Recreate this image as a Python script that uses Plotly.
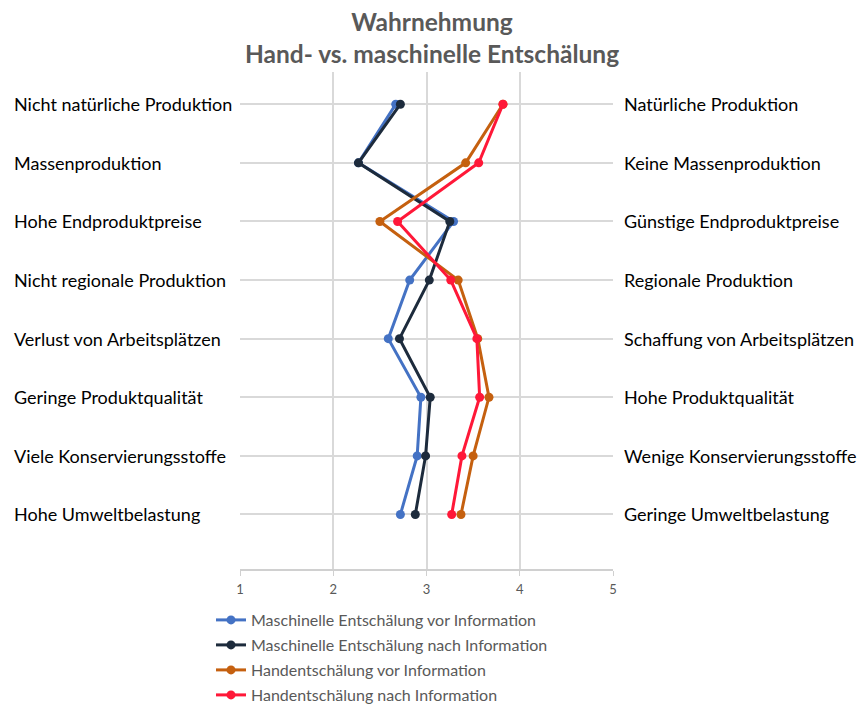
import plotly.graph_objects as go

# Semantic differential: left pole / right pole per row (top to bottom)
left_labels = [
    "Nicht natürliche Produktion",
    "Massenproduktion",
    "Hohe Endproduktpreise",
    "Nicht regionale Produktion",
    "Verlust von Arbeitsplätzen",
    "Geringe Produktqualität",
    "Viele Konservierungsstoffe",
    "Hohe Umweltbelastung",
]
right_labels = [
    "Natürliche Produktion",
    "Keine Massenproduktion",
    "Günstige Endproduktpreise",
    "Regionale Produktion",
    "Schaffung von Arbeitsplätzen",
    "Hohe Produktqualität",
    "Wenige Konservierungsstoffe",
    "Geringe Umweltbelastung",
]
row_pos = [8, 7, 6, 5, 4, 3, 2, 1]

series_names = [
    "Maschinelle Entschälung vor Information",
    "Maschinelle Entschälung nach Information",
    "Handentschälung vor Information",
    "Handentschälung nach Information",
]
masch_vor = [2.67, 2.27, 3.29, 2.82, 2.59, 2.94, 2.90, 2.72]
masch_nach = [2.72, 2.27, 3.25, 3.03, 2.71, 3.04, 2.99, 2.88]
hand_vor = [3.82, 3.42, 2.50, 3.34, 3.55, 3.67, 3.50, 3.37]
hand_nach = [3.82, 3.56, 2.69, 3.26, 3.54, 3.57, 3.38, 3.27]
series_values = [masch_vor, masch_nach, hand_vor, hand_nach]
series_colors = ["#4472C4", "#1D2B3C", "#C5600F", "#FF1838"]

x_ticks = [1, 2, 3, 4, 5]

FONT = "Lato"

fig = go.Figure()
for i, (name, vals, col) in enumerate(zip(series_names, series_values, series_colors)):
    fig.add_trace(go.Scatter(
        x=vals, y=row_pos, name=name, mode="lines+markers",
        legendgroup=f"g{i}",
        line=dict(color=col, width=3),
        marker=dict(color=col, size=9),
    ))

W, H = 859, 708
ml, mr, mt, mb = 240, 246, 72, 139
pw = W - ml - mr
ph = H - mt - mb

for lbl, y in zip(left_labels, row_pos):
    fig.add_annotation(text=lbl, x=(12 - ml) / pw, xref="paper",
                       y=y, yref="y", xanchor="left", yanchor="middle",
                       showarrow=False, font=dict(family=FONT, size=18, color="#000000"))
for lbl, y in zip(right_labels, row_pos):
    fig.add_annotation(text=lbl, x=(622 - ml) / pw, xref="paper",
                       y=y, yref="y", xanchor="left", yanchor="middle",
                       showarrow=False, font=dict(family=FONT, size=18, color="#000000"))

fig.update_layout(
    width=W, height=H,
    margin=dict(l=ml, r=mr, t=mt, b=mb, autoexpand=False),
    paper_bgcolor="white", plot_bgcolor="white",
    title=dict(text="<b>Wahrnehmung<br>Hand- vs. maschinelle Entschälung</b>",
               x=(432) / W, xanchor="center", y=1 - 31 / H, yanchor="middle",
               font=dict(family=FONT, size=24.5, color="#595959")),
    xaxis=dict(range=[1, 5], tickvals=x_ticks, showgrid=True, gridcolor="#D9D9D9",
               gridwidth=1.5, zeroline=False, showline=True, linecolor="#D0D0D0",
               linewidth=1.5, ticks="outside", ticklen=5, tickcolor="#D0D0D0",
               ticklabelstandoff=3,
               tickfont=dict(family=FONT, size=13, color="#595959")),
    yaxis=dict(range=[0.07, 8.55], tickvals=row_pos, showticklabels=False,
               showgrid=True, gridcolor="#D9D9D9", gridwidth=1.5, zeroline=False,
               showline=False),
    legend=dict(x=(211 - ml) / pw, xanchor="left", y=-34 / ph, yanchor="top",
                font=dict(family=FONT, size=16, color="#595959"),
                tracegroupgap=1.2, itemwidth=30, bgcolor="rgba(0,0,0,0)"),
    showlegend=True,
)

fig.write_html("out.html")
